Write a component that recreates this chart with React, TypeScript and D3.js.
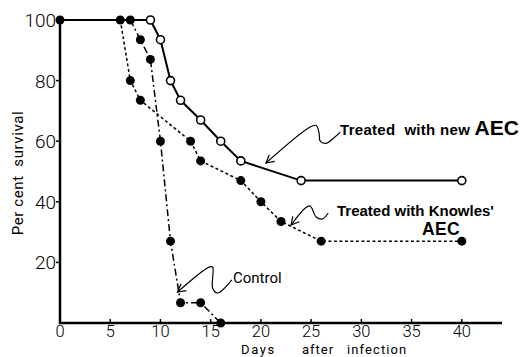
import React from 'react';
import * as d3 from 'd3';

// days after infection / per cent survival
const newDays = [0, 9, 10, 11, 12, 14, 16, 18, 24, 40];
const newSurv = [100, 100, 93.5, 80, 73.5, 67, 60, 53.5, 47, 47];

const knowlesDays = [6, 7, 8, 13, 14, 18, 20, 22, 26, 40];
const knowlesSurv = [100, 80, 73.5, 60, 53.5, 47, 40, 33.5, 27, 27];

const controlDays = [7, 8, 9, 10, 11, 12, 14, 16];
const controlSurv = [100, 93.5, 87, 60, 27, 6.7, 6.7, 0];

const xTicks = [0, 5, 10, 15, 20, 25, 30, 35, 40];
const yTicks = [20, 40, 60, 80, 100];

// annotation squiggles, in data units [day, percent]
const newArrow: [number, number][] = [[20.5, 52.8], [24.9, 64.7], [25.5, 65.2], [25.8, 62.5], [25.9, 60], [26.5, 59.3], [27.3, 61.2], [27.9, 63]];
const knowlesArrow: [number, number][] = [[23, 32.3], [24.4, 37.9], [24.9, 38.6], [25.5, 35], [26.1, 34.3], [26.7, 36.3]];
const controlArrow: [number, number][] = [[11.7, 10.2], [14.9, 18.5], [15.2, 18.4], [15.2, 11.5], [15.7, 9.9], [17.1, 14.2]];

const W = 526;
const H = 357;

export default function App() {
  const x = d3.scaleLinear().domain([0, 44]).range([60, 502]);
  const y = d3.scaleLinear().domain([0, 100]).range([323, 20]);
  const line = d3.line<[number, number]>().x(d => x(d[0])).y(d => y(d[1]));
  const squiggle = d3.line<[number, number]>().x(d => x(d[0])).y(d => y(d[1])).curve(d3.curveCatmullRom.alpha(0.5));

  const newPts = newDays.map((d, i) => [d, newSurv[i]] as [number, number]);
  const knowlesPts = knowlesDays.map((d, i) => [d, knowlesSurv[i]] as [number, number]);
  const controlPts = controlDays.map((d, i) => [d, controlSurv[i]] as [number, number]);

  const barb = (p: [number, number], q: [number, number]) => {
    // small open arrow head at p, pointing away from q
    const px = x(p[0]), py = y(p[1]);
    const ang = Math.atan2(y(q[1]) - py, x(q[0]) - px);
    const len = 9;
    const a1 = ang + 0.5, a2 = ang - 0.5;
    return `M${px + len * Math.cos(a1)},${py + len * Math.sin(a1)}L${px},${py}L${px + len * Math.cos(a2)},${py + len * Math.sin(a2)}`;
  };

  const axisFont = 'Roboto, "DejaVu Sans", sans-serif';
  const boldFont = '"Liberation Sans", Arial, sans-serif';

  return (
    <svg width={W} height={H} style={{ position: 'absolute', left: 0, top: 0, background: '#fff' }}>
      {/* axes */}
      <line x1={x(0)} x2={x(0)} y1={y(0) + 1} y2={y(100) - 3} stroke="#000" strokeWidth={2.5} />
      <line x1={x(0) - 1} x2={x(44)} y1={y(0)} y2={y(0)} stroke="#000" strokeWidth={2.5} />
      {xTicks.map(t => (
        <g key={'x' + t}>
          {t > 0 && <line x1={x(t)} x2={x(t)} y1={y(0)} y2={y(0) - 4} stroke="#000" strokeWidth={1.5} />}
          <text x={x(t)} y={337} textAnchor="middle" fontFamily={axisFont} fontSize={16.5} fontWeight={300}>{t}</text>
        </g>
      ))}
      {yTicks.map(t => (
        <g key={'y' + t}>
          <line x1={x(0)} x2={x(0) - 4} y1={y(t)} y2={y(t)} stroke="#000" strokeWidth={1.5} />
          <text x={x(0) - 4} y={y(t) + 7} textAnchor="end" fontFamily={axisFont} fontSize={19} fontWeight={300}>{t}</text>
        </g>
      ))}
      <text transform="translate(23,173) rotate(-90)" textAnchor="middle" fontFamily={axisFont} fontSize={15}
        letterSpacing={0.6} style={{ whiteSpace: 'pre' }}>
        {'Per cent  survival'}
      </text>
      <text x={241} y={353.5} fontFamily={axisFont} fontSize={13} letterSpacing={1.6}>Days</text>
      <text x={302} y={353.5} fontFamily={axisFont} fontSize={13} letterSpacing={1}>after</text>
      <text x={347} y={353.5} fontFamily={axisFont} fontSize={13} letterSpacing={1.1}>infection</text>

      {/* series lines */}
      <path d={line(newPts) || ''} fill="none" stroke="#000" strokeWidth={2} />
      <path d={line(knowlesPts) || ''} fill="none" stroke="#000" strokeWidth={1.5} strokeDasharray="3,2.5" />
      <path d={line(controlPts) || ''} fill="none" stroke="#000" strokeWidth={1.5} strokeDasharray="7,3,2,3" />

      {/* markers */}
      <circle cx={x(0)} cy={y(100)} r={4.5} fill="#000" />
      {knowlesPts.map((p, i) => (
        <circle key={'k' + i} cx={x(p[0])} cy={y(p[1])} r={4.5} fill="#000" />
      ))}
      {controlPts.map((p, i) => (
        <circle key={'c' + i} cx={x(p[0])} cy={y(p[1])} r={4.5} fill="#000" />
      ))}
      {newPts.slice(1).map((p, i) => (
        <circle key={'n' + i} cx={x(p[0])} cy={y(p[1])} r={4} fill="#fff" stroke="#000" strokeWidth={1.6} />
      ))}

      {/* annotations */}
      <path d={squiggle(newArrow) || ''} fill="none" stroke="#000" strokeWidth={1.2} />
      <path d={barb(newArrow[0], newArrow[1])} fill="none" stroke="#000" strokeWidth={1.2} />
      <path d={squiggle(knowlesArrow) || ''} fill="none" stroke="#000" strokeWidth={1.2} />
      <path d={barb(knowlesArrow[0], knowlesArrow[1])} fill="none" stroke="#000" strokeWidth={1.2} />
      <path d={squiggle(controlArrow) || ''} fill="none" stroke="#000" strokeWidth={1.2} />
      <path d={barb(controlArrow[0], controlArrow[1])} fill="none" stroke="#000" strokeWidth={1.2} />

      <text x={340} y={135} fontFamily={boldFont} fontWeight="bold" fontSize={15} letterSpacing={0.3} style={{ whiteSpace: 'pre' }}>
        {'Treated  with new '}
        <tspan fontSize={21} letterSpacing={0}>AEC</tspan>
      </text>
      <text x={337} y={216} fontFamily={boldFont} fontWeight="bold" fontSize={15}>
        Treated with Knowles'
      </text>
      <text x={422} y={235} fontFamily={boldFont} fontWeight="bold" fontSize={17.5} letterSpacing={0.3}>AEC</text>
      <text x={233} y={283} fontFamily={axisFont} fontSize={15}>Control</text>
    </svg>
  );
}
